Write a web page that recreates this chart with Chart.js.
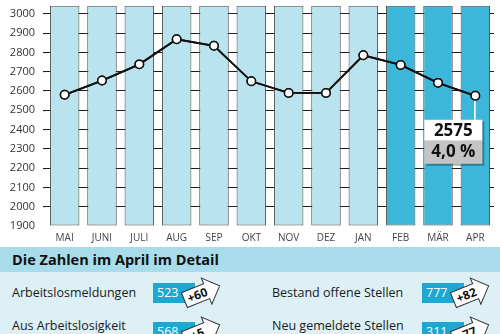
<!DOCTYPE html>
<html><head><meta charset="utf-8">
<script src="https://cdn.jsdelivr.net/npm/chart.js@4/dist/chart.umd.min.js"></script>
<style>
html,body{margin:0;padding:0;background:#fff;width:500px;height:334px;overflow:hidden;font-family:'Open Sans',sans-serif}
#wrap{position:absolute;left:0;top:0;width:500px;height:246px}
#info{position:absolute;left:0;top:247px;width:500px;height:87px;background:#dcf0f6;overflow:hidden}
#hdr{position:absolute;left:0;top:0;width:500px;height:25px;background:#a8dcea;font-weight:bold;font-size:14.5px;line-height:25px;color:#111;padding-left:12px;box-sizing:border-box}
.lbl{position:absolute;font-size:12.5px;color:#1a1a1a;line-height:16px;white-space:nowrap}
.box{position:absolute;width:42px;height:20px;background:#1ca8d2;color:#fff;font-size:12.5px;line-height:20px;padding-left:4px;box-sizing:border-box}
.arr{position:absolute;width:40px;height:32px;overflow:visible}
</style></head><body>
<div id="wrap"><canvas id="c"></canvas></div>
<div id="info"><div id="hdr"></div></div>
<script>
const months = ['MAI','JUNI','JULI','AUG','SEP','OKT','NOV','DEZ','JAN','FEB','MÄR','APR'];
const unemployed = [2580, 2654, 2738, 2868, 2834, 2650, 2590, 2590, 2785, 2735, 2642, 2575];
const columnTop = [3042, 3042, 3042, 3042, 3042, 3042, 3042, 3042, 3042, 3042, 3042, 3042];
const yTicks = [1900, 2000, 2100, 2200, 2300, 2400, 2500, 2600, 2700, 2800, 2900, 3000];
const highlightMonths = ['FEB','MÄR','APR'];
const annotationValue = '2575';
const annotationRate = '4,0 %';
const detailTitle = 'Die Zahlen im April im Detail';
const detailLabels = ['Arbeitslosmeldungen','Aus Arbeitslosigkeit','Bestand offene Stellen','Neu gemeldete Stellen'];
const detailValues = ['523','568','777','311'];
const detailChanges = ['+60','+5','+82','+77'];

// bottom info panel
document.getElementById('hdr').textContent = detailTitle;
const info = document.getElementById('info');
const pos = [
  {lx:12, ly:38, bx:153, by:36},
  {lx:12, ly:71, bx:153, by:75},
  {lx:272, ly:38, bx:422, by:36},
  {lx:272, ly:71, bx:422, by:75}
];
detailLabels.forEach((t,i)=>{
  const p = pos[i];
  const l = document.createElement('div'); l.className='lbl'; l.style.left=p.lx+'px'; l.style.top=p.ly+'px'; l.textContent=t; info.appendChild(l);
  const b = document.createElement('div'); b.className='box'; b.style.left=p.bx+'px'; b.style.top=p.by+'px'; b.textContent=detailValues[i]; info.appendChild(b);
  const ns='http://www.w3.org/2000/svg';
  const s = document.createElementNS(ns,'svg'); s.setAttribute('class','arr'); s.setAttribute('width','40'); s.setAttribute('height','32');
  s.style.left=(p.bx+29)+'px'; s.style.top=(p.by-6)+'px';
  const g = document.createElementNS(ns,'g'); g.setAttribute('transform','rotate(-22 20 16)');
  const poly = document.createElementNS(ns,'polygon');
  poly.setAttribute('points','1,8 25,8 25,2 39,16 25,30 25,24 1,24');
  poly.setAttribute('fill','#fff'); poly.setAttribute('stroke','#333'); poly.setAttribute('stroke-width','1');
  g.appendChild(poly);
  const tx = document.createElementNS(ns,'text');
  tx.setAttribute('x','15'); tx.setAttribute('y','20.5'); tx.setAttribute('text-anchor','middle');
  tx.setAttribute('font-family','Open Sans'); tx.setAttribute('font-weight','bold'); tx.setAttribute('font-size','12'); tx.setAttribute('fill','#111');
  tx.textContent = detailChanges[i];
  g.appendChild(tx); s.appendChild(g); info.appendChild(s);
});

const annot = {
  id:'annot',
  afterDraw(chart){
    const ctx = chart.ctx;
    const meta = chart.getDatasetMeta(1);
    // keep the line and markers above the grid layer
    meta.controller.draw();
    const pt = meta.data[meta.data.length-1];
    const w=58, h1=21, h2=23;
    const bx = pt.x + 7 - w, by = pt.y + 24;
    ctx.save();
    ctx.fillStyle='#ffffff'; ctx.fillRect(pt.x-1.2, pt.y+5, 1.6, by-pt.y-5);
    ctx.fillStyle='rgba(0,0,0,0.3)'; ctx.fillRect(bx+2, by+2, w, h1+h2);
    ctx.fillStyle='#ffffff'; ctx.fillRect(bx, by, w, h1);
    ctx.fillStyle='#c4c4c4'; ctx.fillRect(bx, by+h1, w, h2);
    ctx.fillStyle='#111'; ctx.font="bold 17px 'Open Sans'"; ctx.textAlign='center'; ctx.textBaseline='middle';
    ctx.fillText(annotationValue, bx+w/2, by+h1/2+1);
    ctx.fillText(annotationRate, bx+w/2, by+h1+h2/2);
    ctx.restore();
  }
};

new Chart(document.getElementById('c'), {
  type:'bar',
  data: {
    labels: months,
    datasets: [
      {type:'bar', data: columnTop, order:1,
       backgroundColor: months.map(m=>highlightMonths.includes(m)?'#3db7d9':'#b8e3ef'),
       borderColor:'#4a4a4a', borderWidth:1, borderSkipped:false,
       barPercentage:0.79, categoryPercentage:1.0, base:1900},
      {type:'line', data: unemployed, order:0,
       borderColor:'#111', borderWidth:1.8, tension:0,
       pointRadius:4.2, pointBackgroundColor:'#fff', pointBorderColor:'#111', pointBorderWidth:1.5}
    ]
  },
  options: {
    responsive:true, maintainAspectRatio:false, animation:false,
    layout:{padding:{left:0,right:6,top:0,bottom:0}},
    plugins:{legend:{display:false}, tooltip:{enabled:false}},
    scales:{
      x:{grid:{display:false, drawTicks:false}, border:{display:false},
         ticks:{color:'#444', font:{family:'Open Sans', size:10}, padding:6, maxRotation:0, autoSkip:false},
         afterFit(s){ s.height = 20; }},
      y:{min:1900, max:3042, z:1,
         grid:{display:true, drawTicks:true, tickLength:3, lineWidth:1.1,
               color:(c)=> (c.tick && c.tick.value===yTicks[0]) ? 'rgba(0,0,0,0)' : '#1e1e1e'},
         border:{display:false},
         ticks:{color:'#333', font:{family:'Open Sans', size:11}, padding:8, callback:(v)=>String(v)},
         afterBuildTicks(s){ s.ticks = yTicks.map(v=>({value:v})); },
         afterFit(s){ s.width = 46; s.paddingTop = 0; s.paddingBottom = 0; }}
    }
  },
  plugins:[annot]
});
</script>
</body></html>
